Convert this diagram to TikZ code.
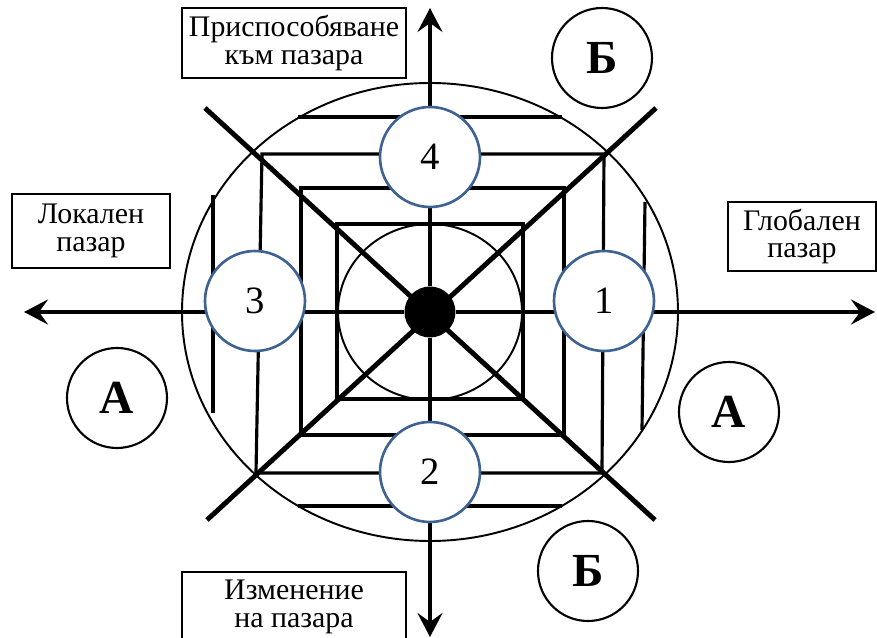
\documentclass[tikz,border=0pt]{standalone}
\usepackage{fontspec}
\setmainfont{Liberation Serif}
\usetikzlibrary{arrows.meta}
\definecolor{ringblue}{RGB}{62,98,145}
\begin{document}
\begin{tikzpicture}[
  axis/.style={line width=2.8pt, -{Stealth[length=0.48cm, width=0.5cm, inset=0.18cm]}},
  diag/.style={line width=2.8pt},
  hatch/.style={line width=1.8pt},
  numring/.style={circle, draw=ringblue, line width=1.5pt, fill=white, minimum size=2cm, inner sep=0pt, font=\fontsize{22}{22}\selectfont},
  zone/.style={circle, draw, line width=1.2pt, minimum size=2cm, inner sep=0pt, font=\fontsize{27}{27}\selectfont\bfseries},
  tag/.style={draw, line width=1.1pt, align=center, inner sep=0pt, font=\fontsize{17}{15.8}\selectfont}
]
\useasboundingbox (-8.6,-6.52) rectangle (8.94,6.24);
\draw[line width=1.1pt] (0,0) ellipse [x radius=4.96, y radius=4.58];
\draw[line width=1.1pt] (0,0) ellipse [x radius=1.84, y radius=1.76];
\draw[hatch] (-1.86,1.76) rectangle (1.86,-1.74);
\draw[hatch] (-2.58,2.48) rectangle (2.68,-2.46);
\draw[hatch] (-3.36,3.16) -- (3.48,3.16) -- (3.44,-3.22) -- (-3.48,-3.22) -- cycle;
\draw[hatch] (-2.64,3.9) -- (2.64,3.9);
\draw[hatch] (-2.64,-3.88) -- (2.64,-3.88);
\draw[hatch] (-4.34,2.34) -- (-4.34,-2.02);
\draw[hatch] (4.3,2.2) -- (4.24,-2.36);
\coordinate (NW) at (-4.5,4.08);
\coordinate (SE) at (4.5,-4.16);
\coordinate (NE) at (4.52,4.08);
\coordinate (SW) at (-4.46,-4.16);
\draw[diag] (NW) -- (SE);
\draw[diag] (NE) -- (SW);
\node[circle, fill=black, minimum size=1.02cm, inner sep=0pt] (hub) at (0,0) {};
\coordinate (up) at (0,6.08);
\coordinate (down) at (0,-6.5);
\coordinate (left) at (-8.12,0);
\coordinate (right) at (8.9,0);
\draw[axis] (hub) -- (up);
\draw[axis] (hub) -- (down);
\draw[axis] (hub) -- (left);
\draw[axis] (hub) -- (right);
\node[numring] (q1) at (3.48,0.22) {1};
\node[numring] (q2) at (0,-3.2) {2};
\node[numring] (q3) at (-3.5,0.22) {3};
\node[numring] (q4) at (0,3.1) {4};
\node[zone] (b1) at (3.44,5.08) {Б};
\node[zone] (b2) at (3.16,-5.18) {Б};
\node[zone] (a1) at (-6.26,-1.72) {А};
\node[zone] (a2) at (5.98,-2.0) {А};
\node[tag, minimum width=4.48cm, minimum height=1.4cm] (adapt) at (-2.72,5.38) {Приспособяване\\към пазара};
\node[tag, minimum width=4.48cm, minimum height=1.4cm, anchor=north] (change) at (-2.72,-5.18) {Изменение\\на пазара};
\node[tag, minimum width=3.16cm, minimum height=1.48cm] (local) at (-6.78,1.62) {Локален\\пазар};
\node[tag, minimum width=2.96cm, minimum height=1.38cm] (global) at (7.44,1.51) {Глобален\\пазар};
\end{tikzpicture}
\end{document}
